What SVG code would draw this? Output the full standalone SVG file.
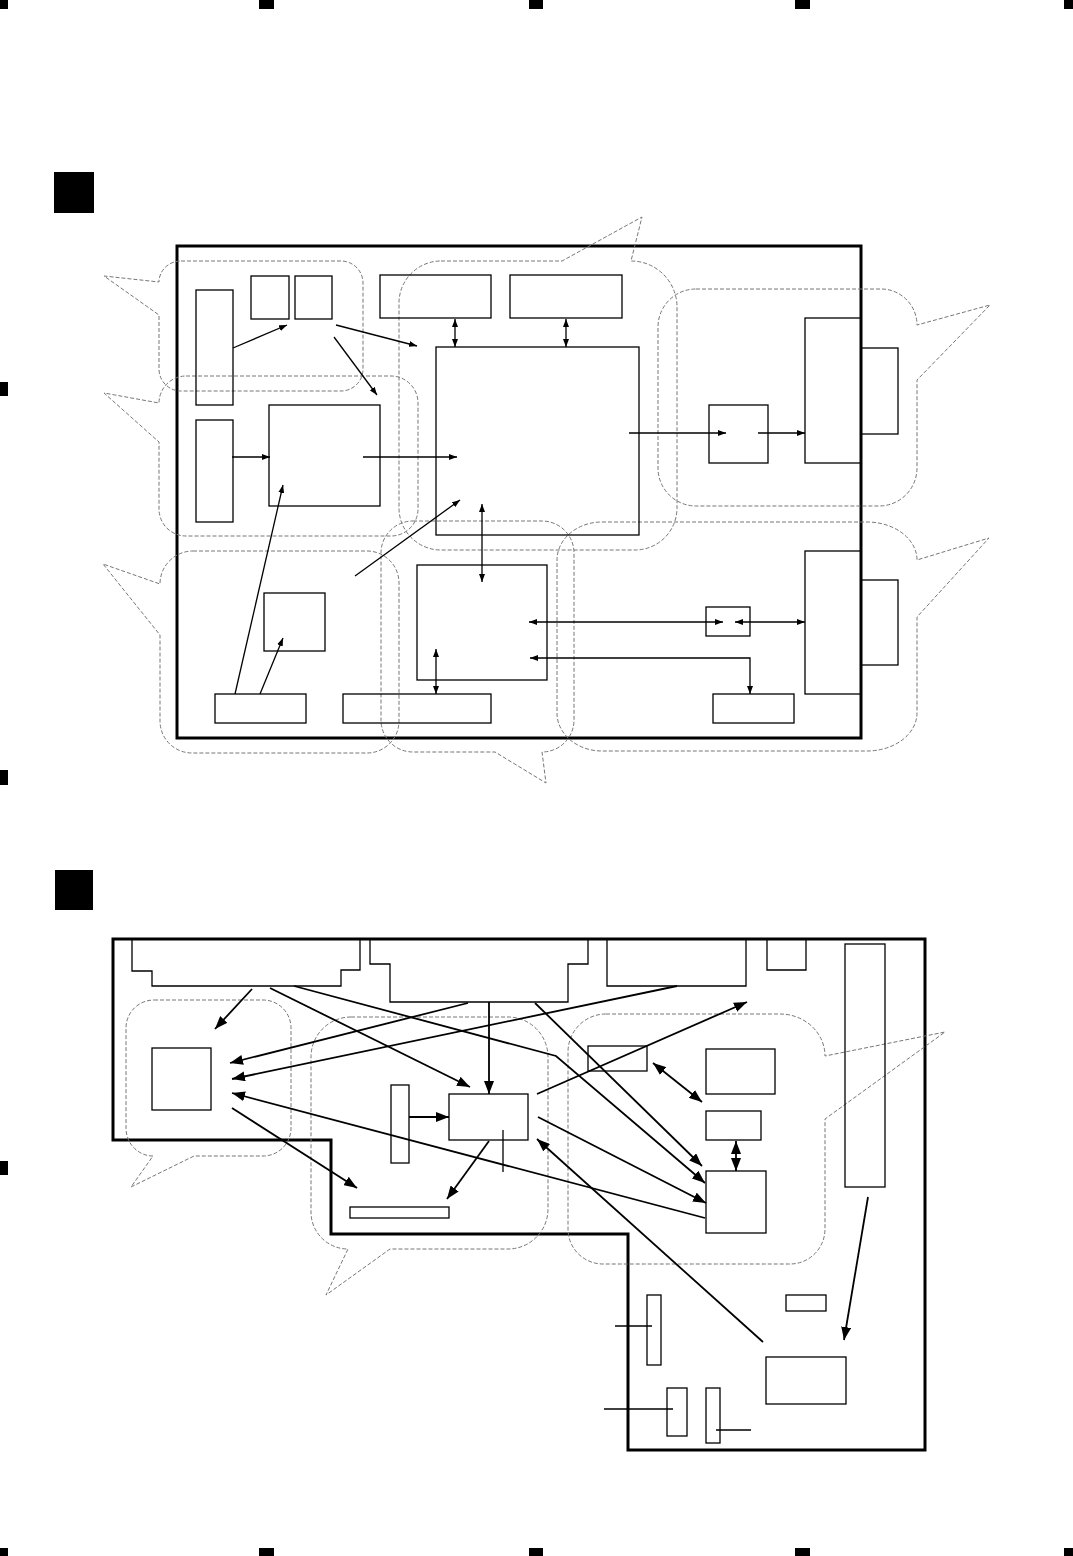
<svg xmlns="http://www.w3.org/2000/svg" width="1073" height="1556" viewBox="0 0 1073 1556">
<style>
.box{fill:none;stroke:#000;stroke-width:1.3}
.frame{fill:none;stroke:#000;stroke-width:3}
.zone{fill:none;stroke:#777;stroke-width:1;stroke-dasharray:4 2}
.c1{fill:none;stroke:#000;stroke-width:1.3}
.c2{fill:none;stroke:#000;stroke-width:1.8}
.mark{fill:#000}
</style>
<defs>
<marker id="s" viewBox="0 0 8 6" markerWidth="8" markerHeight="6" refX="8" refY="3" orient="auto-start-reverse" markerUnits="userSpaceOnUse"><path d="M0,0 L8,3 L0,6 z" fill="#000"/></marker>
<marker id="l" viewBox="0 0 13 10" markerWidth="13" markerHeight="10" refX="13" refY="5" orient="auto-start-reverse" markerUnits="userSpaceOnUse"><path d="M0,0 L13,5 L0,10 z" fill="#000"/></marker>
</defs>
<rect width="1073" height="1556" fill="#fff"/>
<g id="marks">
<rect class="mark" x="0" y="0" width="8" height="9"/>
<rect class="mark" x="259" y="0" width="15" height="9"/>
<rect class="mark" x="529" y="0" width="14" height="9"/>
<rect class="mark" x="795" y="0" width="15" height="9"/>
<rect class="mark" x="1064" y="0" width="9" height="9"/>
<rect class="mark" x="0" y="1548" width="8" height="8"/>
<rect class="mark" x="259" y="1548" width="15" height="8"/>
<rect class="mark" x="529" y="1548" width="14" height="8"/>
<rect class="mark" x="795" y="1548" width="15" height="8"/>
<rect class="mark" x="1064" y="1548" width="9" height="8"/>
<rect class="mark" x="0" y="382" width="8" height="14"/>
<rect class="mark" x="0" y="770" width="8" height="15"/>
<rect class="mark" x="0" y="1161" width="8" height="14"/>
<rect class="mark" x="54" y="172" width="40" height="41"/>
<rect class="mark" x="55" y="870" width="38" height="40"/>
</g>
<g id="diagram1">
<rect id="frame1" class="frame" x="177" y="246" width="684" height="492"/>
<g id="zones1">
<path class="zone" d="M181,261 H341 A22 22 0 0 1 363 283 V369 A22 22 0 0 1 341 391 H181 A22 22 0 0 1 159 369 V315 L104 276 L159 282 A22 21 0 0 1 181 261 Z"/>
<path class="zone" d="M186,376 H391 A27 27 0 0 1 418 403 V509 A27 27 0 0 1 391 536 H186 A27 27 0 0 1 159 509 V442 L104 393 L159 403 A27 27 0 0 1 186 376 Z"/>
<path class="zone" d="M441,261 H562 L642 217 L631 261 A46 46 0 0 1 677 307 V508 A42 42 0 0 1 635 550 H441 A42 42 0 0 1 399 508 V303 A42 42 0 0 1 441 261 Z"/>
<path class="zone" d="M696,289 H881 A36 36 0 0 1 917 325 L990 305 L917 380 V468 A38 38 0 0 1 879 506 H696 A38 38 0 0 1 658 468 V327 A38 38 0 0 1 696 289 Z"/>
<path class="zone" d="M193,551 H367 A32 32 0 0 1 399 583 V721 A32 32 0 0 1 367 753 H192 A32 32 0 0 1 160 721 V635 L103 564 L160 584 A33 33 0 0 1 193 551 Z"/>
<path class="zone" d="M413,521 H542 A32 32 0 0 1 574 553 V720 A32 32 0 0 1 542 752 L546 783 L495 752 H413 A32 32 0 0 1 381 720 V553 A32 32 0 0 1 413 521 Z"/>
<path class="zone" d="M602,522 H867 A50 38 0 0 1 917 560 L989 538 L917 617 V713 A50 38 0 0 1 867 751 H602 A45 38 0 0 1 557 713 V560 A45 38 0 0 1 602 522 Z"/>
</g>
<g id="n1A"><rect class="box" x="196" y="290" width="37" height="115"/></g>
<g id="n1B1"><rect class="box" x="251" y="276" width="38" height="43"/></g>
<g id="n1B2"><rect class="box" x="295" y="276" width="37" height="43"/></g>
<g id="n1C"><rect class="box" x="380" y="275" width="111" height="43"/></g>
<g id="n1D"><rect class="box" x="510" y="275" width="112" height="43"/></g>
<g id="n1E"><rect class="box" x="436" y="347" width="203" height="188"/></g>
<g id="n1F"><rect class="box" x="196" y="420" width="37" height="102"/></g>
<g id="n1G"><rect class="box" x="269" y="405" width="111" height="101"/></g>
<g id="n1H"><rect class="box" x="264" y="593" width="61" height="58"/></g>
<g id="n1I"><rect class="box" x="215" y="694" width="91" height="29"/></g>
<g id="n1J"><rect class="box" x="343" y="694" width="148" height="29"/></g>
<g id="n1K"><rect class="box" x="417" y="565" width="130" height="115"/></g>
<g id="n1L"><rect class="box" x="706" y="607" width="44" height="29"/></g>
<g id="n1M"><rect class="box" x="713" y="694" width="81" height="29"/></g>
<g id="n1N"><rect class="box" x="805" y="551" width="56" height="143"/></g>
<g id="n1O"><rect class="box" x="861" y="580" width="37" height="85"/></g>
<g id="n1P"><rect class="box" x="709" y="405" width="59" height="58"/></g>
<g id="n1Q"><rect class="box" x="805" y="318" width="56" height="145"/></g>
<g id="n1R"><rect class="box" x="861" y="348" width="37" height="86"/></g>
<g id="connectors1">
<line class="c1" x1="233" y1="348" x2="287" y2="325" marker-end="url(#s)"/>
<line class="c1" x1="336" y1="325" x2="417" y2="346" marker-end="url(#s)"/>
<line class="c1" x1="334" y1="337" x2="377" y2="395" marker-end="url(#s)"/>
<line class="c1" x1="455" y1="319" x2="455" y2="347" marker-start="url(#s)" marker-end="url(#s)"/>
<line class="c1" x1="566" y1="319" x2="566" y2="347" marker-start="url(#s)" marker-end="url(#s)"/>
<line class="c1" x1="232" y1="457" x2="270" y2="457" marker-end="url(#s)"/>
<line class="c1" x1="363" y1="457" x2="457" y2="457" marker-end="url(#s)"/>
<line class="c1" x1="235" y1="694" x2="283" y2="485" marker-end="url(#s)"/>
<line class="c1" x1="355" y1="576" x2="460" y2="500" marker-end="url(#s)"/>
<line class="c1" x1="482" y1="504" x2="482" y2="582" marker-start="url(#s)" marker-end="url(#s)"/>
<line class="c1" x1="260" y1="694" x2="283" y2="638" marker-end="url(#s)"/>
<line class="c1" x1="436" y1="649" x2="436" y2="694" marker-start="url(#s)" marker-end="url(#s)"/>
<line class="c1" x1="529" y1="622" x2="723" y2="622" marker-start="url(#s)" marker-end="url(#s)"/>
<line class="c1" x1="735" y1="622" x2="805" y2="622" marker-start="url(#s)" marker-end="url(#s)"/>
<polyline class="c1" points="530,658 750,658 750,694" marker-start="url(#s)" marker-end="url(#s)"/>
<line class="c1" x1="629" y1="433" x2="726" y2="433" marker-end="url(#s)"/>
<line class="c1" x1="758" y1="433" x2="805" y2="433" marker-end="url(#s)"/>
</g>
</g>
<g id="diagram2">
<path id="frame2" class="frame" d="M113,939 H925 V1450 H628 V1234 H331 V1140 H113 Z"/>
<g id="zones2">
<path class="zone" d="M154,1000 H263 A28 28 0 0 1 291 1028 V1128 A28 28 0 0 1 263 1156 H194 L131 1187 L153 1156 A27 28 0 0 1 126 1128 V1028 A28 28 0 0 1 154 1000 Z"/>
<path class="zone" d="M351,1017 H508 A40 40 0 0 1 548 1057 V1209 A40 40 0 0 1 508 1249 H390 L326 1295 L348 1249 A37 37 0 0 1 311 1212 V1057 A40 40 0 0 1 351 1017 Z"/>
<path class="zone" d="M606,1014 H780 A45 42 0 0 1 825 1056 L945 1032 L825 1119 V1229 A35 35 0 0 1 790 1264 H603 A35 35 0 0 1 568 1229 V1052 A38 38 0 0 1 606 1014 Z"/>
</g>
<g id="n2C1"><polyline class="box" points="132,939 132,971 152,971 152,986 341,986 341,970 360,970 360,939"/></g>
<g id="n2C2"><polyline class="box" points="370,939 370,964 390,964 390,1002 568,1002 568,964 588,964 588,939"/></g>
<g id="n2S"><polyline class="box" points="607,939 607,986 746,986 746,939"/></g>
<g id="n2T"><polyline class="box" points="767,939 767,970 806,970 806,939"/></g>
<g id="n2U"><rect class="box" x="845" y="944" width="40" height="243"/></g>
<g id="n2V"><rect class="box" x="152" y="1048" width="59" height="62"/></g>
<g id="n2W"><rect class="box" x="391" y="1085" width="18" height="78"/></g>
<g id="n2X"><rect class="box" x="449" y="1094" width="79" height="46"/><line class="box" x1="503" y1="1130" x2="503" y2="1172"/></g>
<g id="n2Y"><rect class="box" x="350" y="1207" width="99" height="11"/></g>
<g id="n2Z1"><rect class="box" x="588" y="1046" width="59" height="25"/></g>
<g id="n2Z2"><rect class="box" x="706" y="1049" width="69" height="45"/></g>
<g id="n2Z3"><rect class="box" x="706" y="1111" width="55" height="29"/></g>
<g id="n2Z4"><rect class="box" x="706" y="1171" width="60" height="62"/></g>
<g id="n2a"><rect class="box" x="786" y="1295" width="40" height="16"/></g>
<g id="n2b"><rect class="box" x="766" y="1357" width="80" height="47"/></g>
<g id="n2c"><rect class="box" x="647" y="1295" width="14" height="70"/><line class="box" x1="615" y1="1326" x2="652" y2="1326"/></g>
<g id="n2d"><rect class="box" x="667" y="1388" width="20" height="48"/><line class="box" x1="604" y1="1409" x2="673" y2="1409"/></g>
<g id="n2e"><rect class="box" x="706" y="1388" width="14" height="55"/><line class="box" x1="716" y1="1430" x2="751" y2="1430"/></g>
<g id="connectors2">
<line class="c2" x1="252" y1="989" x2="215" y2="1029" marker-end="url(#l)"/>
<line class="c2" x1="270" y1="988" x2="470" y2="1087" marker-end="url(#l)"/>
<polyline class="c2" points="294,986 556,1056 705,1183" marker-end="url(#l)"/>
<line class="c2" x1="468" y1="1003" x2="230" y2="1063" marker-end="url(#l)"/>
<line class="c2" x1="677" y1="986" x2="232" y2="1079" marker-end="url(#l)"/>
<line class="c2" x1="489" y1="1002" x2="489" y2="1094" marker-end="url(#l)"/>
<line class="c2" x1="535" y1="1003" x2="702" y2="1166" marker-end="url(#l)"/>
<line class="c2" x1="705" y1="1218" x2="232" y2="1093" marker-end="url(#l)"/>
<line class="c2" x1="232" y1="1108" x2="357" y2="1188" marker-end="url(#l)"/>
<line class="c2" x1="409" y1="1117" x2="449" y2="1117" marker-end="url(#l)"/>
<line class="c2" x1="489" y1="1141" x2="447" y2="1199" marker-end="url(#l)"/>
<line class="c2" x1="537" y1="1094" x2="747" y2="1002" marker-end="url(#l)"/>
<line class="c2" x1="538" y1="1117" x2="706" y2="1203" marker-end="url(#l)"/>
<line class="c2" x1="653" y1="1063" x2="702" y2="1102" marker-start="url(#l)" marker-end="url(#l)"/>
<line class="c2" x1="736" y1="1141" x2="736" y2="1171" marker-start="url(#l)" marker-end="url(#l)"/>
<line class="c2" x1="763" y1="1342" x2="537" y2="1139" marker-end="url(#l)"/>
<line class="c2" x1="868" y1="1197" x2="844" y2="1340" marker-end="url(#l)"/>
</g>
</g>
</svg>
